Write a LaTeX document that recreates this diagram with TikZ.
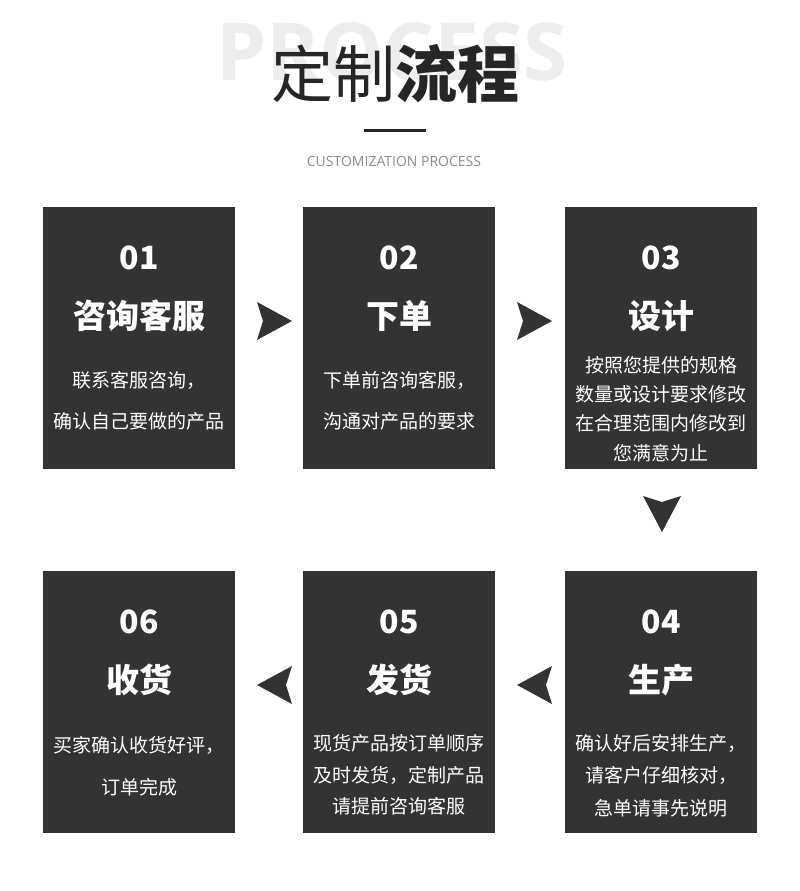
\documentclass[tikz,border=0pt]{standalone}
\usepackage{fontspec}
\setmainfont{Noto Sans CJK SC}
\newfontfamily\cjk{Noto Sans CJK SC}
\newfontfamily\latinsans{Open Sans}
\begin{document}
\begin{tikzpicture}[x=1pt,y=-1pt,
  box/.style={fill=boxc,draw=none,minimum width=192pt,minimum height=262pt,inner sep=0pt},
  num/.style={text=white,font=\cjk\bfseries\fontsize{32}{32}\selectfont},
  ttl/.style={text=white,font=\cjk\bfseries\fontsize{33}{33}\selectfont},
  dsc/.style={text=white,font=\cjk\fontsize{19}{19}\selectfont},
  arr/.style={fill=boxc,draw=none}]
\definecolor{boxc}{HTML}{333333}
\path[use as bounding box,fill=white] (0,0) rectangle (800,891);
\node[text=black!7,font=\latinsans\bfseries\fontsize{80}{80}\selectfont] (bg) at (392,52) {PROCESS};
\node[text=black!85,font=\cjk\fontsize{62}{62}\selectfont] (t) at (395,74) {定制{\bfseries 流程}};
\coordinate (la) at (364,130); \coordinate (lb) at (426,130);
\draw[line width=3pt,black!85] (la) -- (lb);
\node[text=black!45,font=\latinsans\fontsize{14}{14}\selectfont] (st) at (394,161) {CUSTOMIZATION PROCESS};
% boxes
\node[box] (b1) at (139,338) {}; \node[box] (b2) at (399,338) {}; \node[box] (b3) at (661,338) {};
\node[box] (b6) at (139,702) {}; \node[box] (b5) at (399,702) {}; \node[box] (b4) at (661,702) {};
\foreach \b/\x/\y/\n/\t in {b1/139/0/01/咨询客服,b2/399/0/02/下单,b3/661/0/03/设计,b6/139/364/06/收货,b5/399/364/05/发货,b4/661/364/04/生产}{
  \node[num] (\b n) at (\x,258+\y) {\n};
  \node[ttl] (\b t) at (\x,316+\y) {\t};
}
\node[dsc] (d1a) at (139,380) {联系客服咨询，};
\node[dsc] (d1b) at (139,421) {确认自己要做的产品};
\node[dsc] (d2a) at (399,380) {下单前咨询客服，};
\node[dsc] (d2b) at (399,421) {沟通对产品的要求};
\node[dsc] (d3a) at (661,365) {按照您提供的规格};
\node[dsc] (d3b) at (661,394) {数量或设计要求修改};
\node[dsc] (d3c) at (661,423) {在合理范围内修改到};
\node[dsc] (d3d) at (661,453) {您满意为止};
\node[dsc] (d6a) at (139,745) {买家确认收货好评，};
\node[dsc] (d6b) at (139,787) {订单完成};
\node[dsc] (d5a) at (399,743) {现货产品按订单顺序};
\node[dsc] (d5b) at (399,775) {及时发货，定制产品};
\node[dsc] (d5c) at (399,806) {请提前咨询客服};
\node[dsc] (d4a) at (661,743) {确认好后安排生产，};
\node[dsc] (d4b) at (661,775) {请客户仔细核对，};
\node[dsc] (d4c) at (661,808) {急单请事先说明};
% arrows
\foreach \cx/\cy in {274/321,534/321}{
  \fill[arr] (\cx-17,\cy-19) -- (\cx+18,\cy) -- (\cx-17,\cy+19) -- (\cx-11,\cy) -- cycle;}
\foreach \cx/\cy in {275/685,535/685}{
  \fill[arr] (\cx+17,\cy-19) -- (\cx-18,\cy) -- (\cx+17,\cy+19) -- (\cx+11,\cy) -- cycle;}
\fill[arr] (643,496) -- (662,532) -- (681,496) -- (662,502) -- cycle;
\end{tikzpicture}
\end{document}
